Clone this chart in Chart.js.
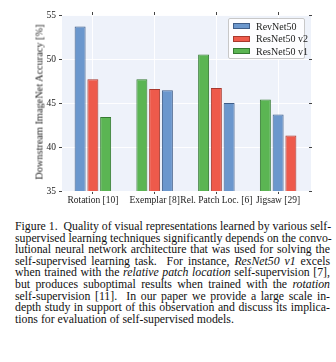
<!DOCTYPE html>
<html>
<head>
<meta charset="utf-8">
<script src="https://cdn.jsdelivr.net/npm/chart.js@4/dist/chart.umd.min.js"></script>
<style>
  html, body { margin: 0; padding: 0; background: #ffffff; }
  #wrap { position: relative; width: 336px; height: 362px; overflow: hidden; }
  #chartBox { position: absolute; left: 0; top: 0; width: 336px; height: 208px; }
  #ytitle { position: absolute; left: 39px; top: 102px; transform: translate(-50%, -50%) rotate(-90deg);
            white-space: nowrap; font-family: "Liberation Serif", serif; font-size: 10.3px; color: #222; }
  #legend { position: absolute; left: 228px; top: 18px; width: 75px; height: 39px;
            background: rgba(255,255,255,0.85); border: 1px solid #c8c8c8; border-radius: 2px;
            font-family: "Liberation Serif", serif; font-size: 10px; color: #222; }
  .lg { position: absolute; left: 4px; height: 12px; display: flex; align-items: center; white-space: nowrap; }
  .sw { width: 17px; height: 6px; margin-right: 6px; box-sizing: border-box; border: 1px solid; }
  #caption { position: absolute; left: 15px; top: 221px; width: 315px;
             font-family: "Liberation Serif", serif; font-size: 11.8px; line-height: 11.6px; color: #111; }
  #caption div { text-align: justify; text-align-last: justify; white-space: nowrap; }
  #caption div.last { text-align-last: left; }
</style>
</head>
<body>
<div id="wrap">
  <div id="chartBox"><canvas id="c"></canvas></div>
  <div id="ytitle"></div>
  <div id="legend"></div>
  <div id="caption">
    <div>Figure 1.&nbsp; Quality of visual representations learned by various self-</div>
    <div>supervised learning techniques significantly depends on the convo-</div>
    <div>lutional neural network architecture that was used for solving the</div>
    <div>self-supervised learning task.&nbsp; For instance, <i>ResNet50 v1</i> excels</div>
    <div>when trained with the <i>relative patch location</i> self-supervision [7],</div>
    <div>but produces suboptimal results when trained with the <i>rotation</i></div>
    <div>self-supervision [11].&nbsp; In our paper we provide a large scale in-</div>
    <div>depth study in support of this observation and discuss its implica-</div>
    <div class="last">tions for evaluation of self-supervised models.</div>
  </div>
</div>
<script>
// ---- data ----
const categories = ['Rotation [10]', 'Exemplar [8]', 'Rel. Patch Loc. [6]', 'Jigsaw [29]'];
const seriesNames = ['RevNet50', 'ResNet50 v2', 'ResNet50 v1'];
const revNet50   = [53.7, 46.45, 45.0, 43.7];
const resNet50v2 = [47.7, 46.6, 46.7, 41.3];
const resNet50v1 = [43.4, 47.7, 50.5, 45.4];
const yTicks = [35, 40, 45, 50, 55];
const yTitle = 'Downstream ImageNet Accuracy [%]';

// ---- styles ----
const fills   = ['#6b97cd', '#ee5a4b', '#5bb553'];
const borders = ['#3f5d88', '#a8392e', '#357a32'];

const seriesValues = [revNet50, resNet50v2, resNet50v1];

// Bars in each group are ordered from highest to lowest value.
const slotData = [[], [], []], slotBg = [[], [], []], slotBd = [[], [], []];
categories.forEach((c, i) => {
  const order = [0, 1, 2].sort((a, b) => seriesValues[b][i] - seriesValues[a][i]);
  order.forEach((s, k) => {
    slotData[k].push(seriesValues[s][i]);
    slotBg[k].push(fills[s]);
    slotBd[k].push(borders[s]);
  });
});

const datasets = [0, 1, 2].map(k => ({
  label: 'slot' + (k + 1),
  data: slotData[k],
  backgroundColor: slotBg[k],
  borderColor: slotBd[k],
  borderWidth: 1,
  barPercentage: 0.86,
  categoryPercentage: 0.62,
  xAxisID: 'x',
  yAxisID: 'y'
}));

document.getElementById('ytitle').textContent = yTitle;

// legend (HTML, from series names / colours)
const lg = document.getElementById('legend');
seriesNames.forEach((n, s) => {
  const d = document.createElement('div');
  d.className = 'lg';
  d.style.top = (1 + s * 12.5) + 'px';
  const sw = document.createElement('span');
  sw.className = 'sw';
  sw.style.background = fills[s];
  sw.style.borderColor = borders[s];
  d.appendChild(sw);
  d.appendChild(document.createTextNode(n));
  lg.appendChild(d);
});

const bgPlugin = {
  id: 'plotBg',
  beforeDraw(chart) {
    const a = chart.chartArea, ctx = chart.ctx;
    ctx.save();
    ctx.fillStyle = '#eef2fa';
    ctx.fillRect(a.left, a.top, a.right - a.left + 2, a.bottom - a.top);
    ctx.restore();
  }
};

const serif = '"Liberation Serif", serif';
const tickCol = '#444';

new Chart(document.getElementById('c'), {
  type: 'bar',
  data: { labels: categories, datasets },
  plugins: [bgPlugin],
  options: {
    responsive: true,
    maintainAspectRatio: false,
    animation: false,
    layout: { padding: 0 },
    plugins: { legend: { display: false }, tooltip: { enabled: false } },
    scales: {
      x: {
        type: 'category',
        position: 'bottom',
        offset: true,
        grid: { offset: false, color: 'rgba(255,255,255,0.9)', tickColor: tickCol, tickLength: 3, lineWidth: 1 },
        border: { display: false },
        ticks: { color: '#222', font: { family: serif, size: 9.5 }, padding: 1, maxRotation: 0, autoSkip: false },
        afterFit(s) { s.height = 17; }
      },
      xTop: {
        type: 'category',
        position: 'top',
        labels: categories,
        offset: true,
        grid: { offset: false, drawOnChartArea: false, tickColor: tickCol, tickLength: 3 },
        border: { display: false },
        ticks: { callback: () => '', padding: 0 },
        afterFit(s) { s.height = 15; }
      },
      y: {
        position: 'left',
        min: 35, max: 55,
        afterBuildTicks(s) { s.ticks = yTicks.map(v => ({ value: v })); },
        grid: { color: 'rgba(255,255,255,0.9)', tickColor: tickCol, tickLength: 3 },
        border: { display: false },
        ticks: { color: '#222', font: { family: serif, size: 9.5 }, padding: 3 },
        afterFit(s) { s.width = 62; }
      },
      yRight: {
        position: 'right',
        min: 35, max: 55,
        afterBuildTicks(s) { s.ticks = yTicks.map(v => ({ value: v })); },
        grid: { drawOnChartArea: false, tickColor: tickCol, tickLength: 3 },
        border: { display: false },
        ticks: { callback: () => '', padding: 0 },
        afterFit(s) { s.width = 27; }
      }
    }
  }
});
</script>
</body>
</html>
